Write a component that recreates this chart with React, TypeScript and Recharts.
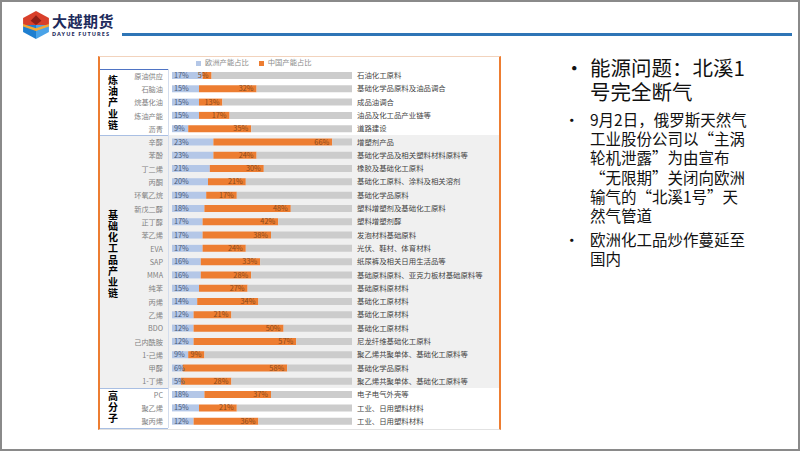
import { Fragment } from "react";
import { Bar, BarChart, LabelList, Legend, XAxis, YAxis } from "recharts";

const FONT = '"Noto Sans CJK SC", "Noto Sans", sans-serif';

// 产品 / 欧洲产能占比 / 中国产能占比 / 下游用途
const PRODUCTS = [
  "原油供应", "石脑油", "烷基化油", "炼油产能", "沥青",
  "辛醇", "苯酚", "丁二烯", "丙酮", "环氧乙烷", "新戊二醇", "正丁醇", "苯乙烯", "EVA", "SAP",
  "MMA", "纯苯", "丙烯", "乙烯", "BDO", "己内酰胺", "1-己烯", "甲醇", "1-丁烯",
  "PC", "聚乙烯", "聚丙烯",
];
const EUROPE_SHARE = [
  17, 15, 15, 15, 9,
  23, 23, 21, 20, 19, 18, 17, 17, 17, 16,
  16, 15, 14, 12, 12, 12, 9, 6, 5,
  18, 15, 12,
];
const CHINA_SHARE = [
  5, 32, 13, 17, 35,
  66, 24, 30, 21, 17, 48, 42, 38, 24, 33,
  28, 27, 34, 21, 50, 57, 9, 58, 28,
  37, 21, 36,
];
const USAGE = [
  "石油化工原料", "基础化学品原料及油品调合", "成品油调合", "油品及化工品产业链等", "道路建设",
  "增塑剂产品", "基础化学品及相关塑料材料原料等", "橡胶及基础化工原料", "基础化工原料、涂料及相关溶剂",
  "基础化学品原料", "塑料增塑剂及基础化工原料", "塑料增塑剂醇", "发泡材料基础原料", "光伏、鞋材、体育材料",
  "纸尿裤及相关日用生活品等", "基础原料原料、亚克力板材基础原料等", "基础原料原材料", "基础化工原材料",
  "基础化工原材料", "基础化工原材料", "尼龙纤维基础化工原料", "聚乙烯共聚单体、基础化工原料等",
  "基础化学品原料", "聚乙烯共聚单体、基础化工原料等",
  "电子电气外壳等", "工业、日用塑料材料", "工业、日用塑料材料",
];
const GROUP_NAMES = ["炼油产业链", "基础化工品产业链", "高分子"];
const GROUP_SIZES = [5, 19, 3];

const GROUP_STARTS = GROUP_SIZES.map((_, i) =>
  GROUP_SIZES.slice(0, i).reduce((a, b) => a + b, 0)
);

const rows = PRODUCTS.map((name, i) => ({
  name,
  europe: EUROPE_SHARE[i],
  china: CHINA_SHARE[i],
  rest: 100 - EUROPE_SHARE[i] - CHINA_SHARE[i],
  usage: USAGE[i],
}));

// chart box on the page
const CHART_LEFT = 100;
const CHART_TOP = 56;
const CHART_W = 401;
const CHART_H = 374;
const MARGIN = { top: 13, right: 149, bottom: 2, left: 0 };
const PLOT_TOP = CHART_TOP + MARGIN.top;
const PLOT_H = CHART_H - MARGIN.top - MARGIN.bottom;
const BAND = PLOT_H / PRODUCTS.length;
// the merged cell of the middle group sits a little high in the source sheet
const LABEL_SHIFT = [1, -7, 0];

function ProductTick(props: any) {
  const { x, y, payload } = props;
  const idx = PRODUCTS.indexOf(payload.value);
  const g = GROUP_STARTS.indexOf(idx);
  let groupLabel = null;
  if (g >= 0) {
    const mid = y + ((GROUP_SIZES[g] - 1) / 2) * BAND + LABEL_SHIFT[g];
    groupLabel = (
      <text
        x={13}
        y={mid}
        writingMode="vertical-rl"
        textAnchor="middle"
        letterSpacing={1.1}
        fontSize={10}
        fontWeight={700}
        fill="#000"
      >
        {GROUP_NAMES[g]}
      </text>
    );
  }
  return (
    <g>
      <text
        x={x - 9}
        y={y}
        textAnchor="end"
        dominantBaseline="central"
        fontSize={7.2}
        fill="#808080"
      >
        {payload.value}
      </text>
      {groupLabel}
    </g>
  );
}

function Logo() {
  return (
    <div style={{ position: "absolute", left: 22, top: 11 }}>
      <svg width={28} height={28} viewBox="0 0 26 26">
        <polygon points="13,0 25,6.5 25,13 1,13 1,6.5" fill="#d9402b" />
        <polygon points="13,4 18,9 13,13 8,9" fill="#8e1f17" />
        <polygon points="1,13 13,13 13,26 1,19.5" fill="#1f7fd0" />
        <polygon points="13,13 25,13 25,19.5 13,26" fill="#4aa3e8" />
        <polygon points="1,12 13,16 25,12 25,14.5 13,18.5 1,14.5" fill="#f3a935" />
      </svg>
      <div
        style={{
          position: "absolute",
          left: 30,
          top: 1,
          fontFamily: FONT,
          fontWeight: 700,
          fontSize: 15,
          lineHeight: "18px",
          color: "#1d2b5c",
          whiteSpace: "nowrap",
          letterSpacing: 0.5,
        }}
      >
        大越期货
      </div>
      <div
        style={{
          position: "absolute",
          left: 30,
          top: 20,
          fontFamily: '"Noto Sans", sans-serif',
          fontWeight: 700,
          fontSize: 5.6,
          lineHeight: "7px",
          color: "#1d2b5c",
          whiteSpace: "nowrap",
          letterSpacing: 1.05,
        }}
      >
        DAYUE FUTURES
      </div>
    </div>
  );
}

const BULLETS = [
  { top: 55, size: 20.5, lh: 24, lines: ["能源问题：北溪1", "号完全断气"] },
  {
    top: 110,
    size: 15.5,
    lh: 19.2,
    lines: [
      "9月2日，俄罗斯天然气",
      "工业股份公司以“主涡",
      "轮机泄露”为由宣布",
      "“无限期”关闭向欧洲",
      "输气的“北溪1号”天",
      "然气管道",
    ],
  },
  { top: 230, size: 15.5, lh: 19, lines: ["欧洲化工品炒作蔓延至", "国内"] },
];

export default function App() {
  const groupTops = GROUP_STARTS.map((s) => PLOT_TOP + s * BAND);
  const midStart = groupTops[1];
  const midEnd = groupTops[2];
  const plotBottom = PLOT_TOP + PLOT_H;

  return (
    <div
      style={{
        position: "absolute",
        left: 0,
        top: 0,
        width: 802,
        height: 452,
        background: "#fff",
        overflow: "hidden",
        fontFamily: FONT,
      }}
    >
      {/* slide frame */}
      <div
        style={{
          position: "absolute",
          left: 0,
          top: 0,
          width: 800,
          height: 451,
          boxSizing: "border-box",
          border: "2px solid #8a8a8a",
        }}
      />
      <Logo />
      <div
        style={{
          position: "absolute",
          left: 122,
          top: 33,
          width: 670,
          height: 3,
          background: "#2e75b6",
        }}
      />

      {/* table background */}
      <div
        style={{
          position: "absolute",
          left: CHART_LEFT,
          top: midStart,
          width: CHART_W,
          height: midEnd - midStart,
          background: "#f0f0f0",
        }}
      />
      <div
        style={{
          position: "absolute",
          left: CHART_LEFT,
          top: PLOT_TOP - 0.5,
          width: 68,
          height: 1,
          background: "#4f74c4",
        }}
      />
      {[midStart, midEnd, plotBottom].map((y, i) => (
        <div
          key={i}
          style={{
            position: "absolute",
            left: CHART_LEFT,
            top: y - 0.5,
            width: 68,
            height: 1,
            background: "#a9bfe3",
          }}
        />
      ))}
      <div
        style={{
          position: "absolute",
          left: 168,
          top: PLOT_TOP,
          width: 1,
          height: PLOT_H,
          background: "#d3ddee",
        }}
      />
      <div
        style={{
          position: "absolute",
          left: CHART_LEFT - 2,
          top: CHART_TOP,
          width: CHART_W + 2,
          height: CHART_H,
          boxSizing: "border-box",
          borderLeft: "2px solid #ed7d31",
          borderRight: "2px solid #ed7d31",
          borderTop: "1px solid #f2d3bd",
          borderBottom: "1px solid #e2e2e2",
        }}
      />

      <div style={{ position: "absolute", left: CHART_LEFT, top: CHART_TOP }}>
        <BarChart
          width={CHART_W}
          height={CHART_H}
          data={rows}
          layout="vertical"
          margin={MARGIN}
          barSize={7}
        >
          <XAxis type="number" domain={[0, 100]} hide />
          <YAxis
            type="category"
            dataKey="name"
            width={72}
            axisLine={false}
            tickLine={false}
            tickSize={0}
            tickMargin={0}
            interval={0}
            tick={<ProductTick />}
          />
          <Legend
            layout="horizontal"
            verticalAlign="middle"
            align="center"
            iconType="square"
            iconSize={5}
            itemSorter={(item: any) => (item.dataKey === "europe" ? 0 : 1)}
            wrapperStyle={{
              top: 1,
              left: 96,
              width: 112,
              height: 10,
              fontSize: 7.3,
              lineHeight: "10px",
              textAlign: "left",
              whiteSpace: "nowrap",
            }}
            formatter={(v: any) => <span style={{ color: "#8c8c8c" }}>{v}</span>}
          />
          <Bar
            dataKey="europe"
            name="欧洲产能占比"
            stackId="s"
            fill="#b4c7e7"
            isAnimationActive={false}
          >
            <LabelList
              dataKey="europe"
              position="insideLeft"
              offset={2}
              formatter={(v: any) => `${v}%`}
              fill="#4a5a78"
              stroke="none"
              fontSize={7.3}
            />
          </Bar>
          <Bar
            dataKey="china"
            name="中国产能占比"
            stackId="s"
            fill="#ed7d31"
            isAnimationActive={false}
          >
            <LabelList
              dataKey="china"
              position="insideRight"
              offset={3}
              formatter={(v: any) => `${v}%`}
              fill="#8a4a1a"
              stroke="none"
              fontSize={7.3}
            />
          </Bar>
          <Bar
            dataKey="rest"
            stackId="s"
            fill="#cccccc"
            legendType="none"
            isAnimationActive={false}
          >
            <LabelList
              dataKey="usage"
              position="right"
              offset={5}
              fill="#3f3f3f"
              stroke="none"
              fontSize={7.4}
            />
          </Bar>
        </BarChart>
      </div>

      {/* right-hand notes */}
      {BULLETS.map((b, i) => (
        <div key={i}>
          <div
            style={{
              position: "absolute",
              left: 564,
              top: b.top,
              fontSize: b.size,
              lineHeight: `${b.lh}px`,
              color: "#111",
            }}
          >
            •
          </div>
          <div
            style={{
              position: "absolute",
              left: 590,
              top: b.top,
              fontSize: b.size,
              lineHeight: `${b.lh}px`,
              color: "#111",
              whiteSpace: "nowrap",
            }}
          >
            {b.lines.map((l, k) => (
              <Fragment key={k}>
                {k > 0 && <br />}
                {l}
              </Fragment>
            ))}
          </div>
        </div>
      ))}
    </div>
  );
}
